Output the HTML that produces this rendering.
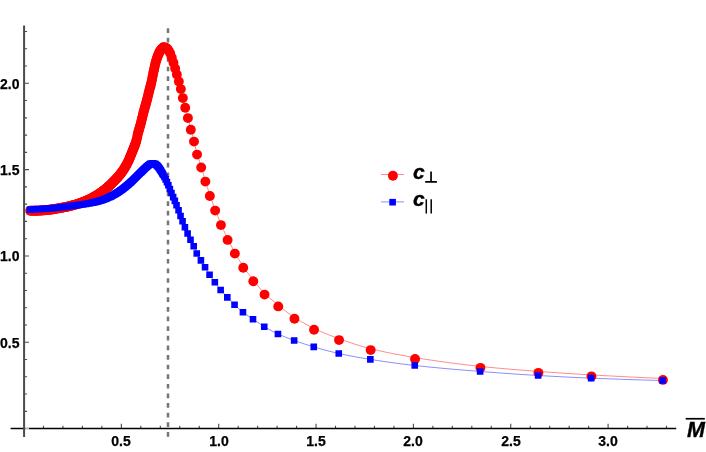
<!DOCTYPE html>
<html>
<head>
<meta charset="utf-8">
<title>Plot</title>
<style>
html,body{margin:0;padding:0;background:#ffffff;}
body{width:706px;height:452px;overflow:hidden;position:relative;font-family:"Liberation Sans",sans-serif;}
#c{position:absolute;left:0;top:0;width:706px;height:452px;overflow:hidden;background:#fff;}
svg{position:absolute;left:0;top:0;}
.t{position:absolute;will-change:transform;font-family:"Liberation Sans",sans-serif;font-weight:bold;color:#000;white-space:nowrap;line-height:1;}
.xl{width:40px;text-align:center;font-size:14.0px;-webkit-text-stroke:0.25px #000;}
.yl{left:0;width:19.3px;text-align:right;font-size:14.0px;-webkit-text-stroke:0.25px #000;}
.bi{font-style:italic;font-size:21.5px;-webkit-text-stroke:0.35px #000;}
</style>
</head>
<body>
<div id="c">
<svg width="706" height="452" viewBox="0 0 706 452">
<line x1="168.0" y1="28.2" x2="168.0" y2="436.7" stroke="#767676" stroke-width="2.5" stroke-dasharray="4.7 4.913"/>
<path d="M43.47 428.56v-2.80M62.94 428.56v-2.80M82.41 428.56v-2.80M101.88 428.56v-2.80M121.35 428.56v-4.70M140.82 428.56v-2.80M160.29 428.56v-2.80M179.76 428.56v-2.80M199.23 428.56v-2.80M218.70 428.56v-4.70M238.17 428.56v-2.80M257.64 428.56v-2.80M277.11 428.56v-2.80M296.58 428.56v-2.80M316.05 428.56v-4.70M335.52 428.56v-2.80M354.99 428.56v-2.80M374.46 428.56v-2.80M393.93 428.56v-2.80M413.40 428.56v-4.70M432.87 428.56v-2.80M452.34 428.56v-2.80M471.81 428.56v-2.80M491.28 428.56v-2.80M510.75 428.56v-4.70M530.22 428.56v-2.80M549.69 428.56v-2.80M569.16 428.56v-2.80M588.63 428.56v-2.80M608.10 428.56v-4.70M627.57 428.56v-2.80M647.04 428.56v-2.80M666.51 428.56v-2.80M24.08 411.34h3.00M24.08 394.07h3.00M24.08 376.81h3.00M24.08 359.54h3.00M24.08 342.28h4.90M24.08 325.01h3.00M24.08 307.75h3.00M24.08 290.48h3.00M24.08 273.22h3.00M24.08 255.95h4.90M24.08 238.69h3.00M24.08 221.42h3.00M24.08 204.16h3.00M24.08 186.89h3.00M24.08 169.62h4.90M24.08 152.36h3.00M24.08 135.10h3.00M24.08 117.83h3.00M24.08 100.57h3.00M24.08 83.30h4.90M24.08 66.03h3.00M24.08 48.77h3.00M24.08 31.51h3.00" stroke="#4a4a4a" stroke-width="1.1" fill="none"/>
<line x1="10.6" y1="428.56" x2="676.2" y2="428.56" stroke="#000" stroke-width="1.5"/>
<rect x="25.2" y="427.36" width="3.8" height="2.4" fill="#ffffff" fill-opacity="0.72"/>
<line x1="24.08" y1="25.5" x2="24.08" y2="437.1" stroke="#4b4b4b" stroke-width="2.0"/>
<polyline points="30.0,209.35 31.0,209.35 32.0,209.34 33.0,209.33 34.0,209.31 35.0,209.29 36.0,209.27 37.0,209.24 38.0,209.21 39.0,209.18 40.0,209.15 41.0,209.10 42.0,209.04 43.0,208.97 44.0,208.89 45.0,208.79 46.0,208.69 47.0,208.58 48.0,208.47 49.0,208.35 50.0,208.24 51.0,208.11 52.0,207.98 53.0,207.83 54.0,207.67 55.0,207.50 56.0,207.33 57.0,207.15 58.0,206.97 59.0,206.79 60.0,206.61 61.0,206.43 62.0,206.25 63.0,206.07 64.0,205.88 65.0,205.69 66.0,205.49 67.0,205.28 68.0,205.06 69.0,204.84 70.0,204.60 71.0,204.35 72.0,204.09 73.0,203.81 74.0,203.52 75.0,203.22 76.0,202.91 77.0,202.59 78.0,202.26 79.0,201.93 80.0,201.58 81.0,201.22 82.0,200.85 83.0,200.47 84.0,200.07 85.0,199.66 86.0,199.23 87.0,198.79 88.0,198.34 89.0,197.88 90.0,197.41 91.0,196.90 92.0,196.37 93.0,195.82 94.0,195.24 95.0,194.66 96.0,194.06 97.0,193.46 98.0,192.84 99.0,192.21 100.0,191.56 101.0,190.89 102.0,190.19 103.0,189.48 104.0,188.73 105.0,187.94 106.0,187.12 107.0,186.26 108.0,185.37 109.0,184.45 110.0,183.50 111.0,182.54 112.0,181.56 113.0,180.56 114.0,179.55 115.0,178.53 116.0,177.48 117.0,176.40 118.0,175.27 119.0,174.10 120.0,172.88 121.0,171.59 122.0,170.23 123.0,168.80 124.0,167.29 125.0,165.67 126.0,163.95 127.0,162.11 128.0,160.06 129.0,157.82 130.0,155.43 131.0,152.95 132.0,150.45 133.0,148.02 134.0,145.60 135.0,142.98 136.0,139.93 137.0,135.86 138.0,131.35 139.0,127.73 140.0,124.30 141.0,120.59 142.0,116.51 143.0,112.41 144.0,108.61 145.0,105.06 146.0,101.51 147.0,97.70 148.0,93.62 149.0,89.54 150.0,85.75 151.0,82.00 152.0,77.40 153.0,72.17 154.0,67.49 155.0,63.15 156.0,59.32 157.0,56.21 158.0,53.61 159.0,51.38 160.0,49.44 161.0,48.05 162.0,46.93 163.0,46.11 164.0,45.88 165.0,46.05 166.0,46.45 167.0,47.17 168.0,48.35 169.0,49.81 170.0,51.71 171.0,54.16 172.0,57.15 173.0,60.31 174.0,63.62 175.0,67.05 176.0,70.50 177.0,74.01 178.0,77.60 179.0,81.25 180.0,84.91 181.0,88.92 182.0,93.49 183.0,97.94 184.0,102.11 185.0,106.15 186.0,110.02 187.0,113.78 188.0,117.63 189.0,121.66 190.0,125.70 191.0,129.58 192.0,133.25 193.0,136.89 194.0,140.75 195.0,145.10 196.0,149.55 197.0,153.51 198.0,156.85 199.0,159.87 200.0,162.81 201.0,165.89 202.0,169.21 203.0,172.64 204.0,176.10 205.0,179.49 206.0,182.79 207.0,186.07 208.0,189.30 209.0,192.44 210.0,195.44 211.0,198.32 212.0,201.12 213.0,203.84 214.0,206.51 215.0,209.15 216.0,211.75 217.0,214.32 218.0,216.84 219.0,219.32 220.0,221.75 221.0,224.12 222.0,226.46 223.0,228.76 224.0,231.03 225.0,233.25 226.0,235.41 227.0,237.52 228.0,239.57 229.0,241.56 230.0,243.50 231.0,245.39 232.0,247.26 233.0,249.09 234.0,250.90 235.0,252.69 236.0,254.47 237.0,256.24 238.0,257.99 239.0,259.72 240.0,261.41 241.0,263.06 242.0,264.66 243.0,266.20 244.0,267.68 245.0,269.13 246.0,270.53 247.0,271.90 248.0,273.24 249.0,274.56 250.0,275.85 251.0,277.13 252.0,278.40 253.0,279.66 254.0,280.92 255.0,282.18 256.0,283.44 257.0,284.69 258.0,285.92 259.0,287.13 260.0,288.32 261.0,289.48 262.0,290.61 263.0,291.70 264.0,292.75 265.0,293.75 266.0,294.71 267.0,295.65 268.0,296.56 269.0,297.45 270.0,298.32 271.0,299.17 272.0,300.00 273.0,300.82 274.0,301.64 275.0,302.45 276.0,303.25 277.0,304.06 278.0,304.87 279.0,305.68 280.0,306.50 281.0,307.31 282.0,308.12 283.0,308.93 284.0,309.73 285.0,310.53 286.0,311.32 287.0,312.10 288.0,312.87 289.0,313.62 290.0,314.36 291.0,315.09 292.0,315.80 293.0,316.49 294.0,317.15 295.0,317.80 296.0,318.44 297.0,319.07 298.0,319.69 299.0,320.30 300.0,320.90 301.0,321.50 302.0,322.08 303.0,322.65 304.0,323.22 305.0,323.77 306.0,324.32 307.0,324.86 308.0,325.39 309.0,325.91 310.0,326.42 311.0,326.93 312.0,327.43 313.0,327.92 314.0,328.40 315.0,328.87 316.0,329.34 317.0,329.80 318.0,330.26 319.0,330.71 320.0,331.15 321.0,331.59 322.0,332.02 323.0,332.45 324.0,332.88 325.0,333.29 326.0,333.71 327.0,334.11 328.0,334.52 329.0,334.92 330.0,335.31 331.0,335.70 332.0,336.09 333.0,336.47 334.0,336.85 335.0,337.22 336.0,337.59 337.0,337.96 338.0,338.32 339.0,338.69 340.0,339.05 341.0,339.40 342.0,339.76 343.0,340.11 344.0,340.47 345.0,340.82 346.0,341.17 347.0,341.51 348.0,341.86 349.0,342.20 350.0,342.54 351.0,342.87 352.0,343.21 353.0,343.54 354.0,343.86 355.0,344.19 356.0,344.51 357.0,344.82 358.0,345.13 359.0,345.44 360.0,345.75 361.0,346.05 362.0,346.34 363.0,346.63 364.0,346.92 365.0,347.20 366.0,347.47 367.0,347.75 368.0,348.01 369.0,348.27 370.0,348.52 371.0,348.77 372.0,349.02 373.0,349.26 374.0,349.50 375.0,349.74 376.0,349.98 377.0,350.21 378.0,350.44 379.0,350.67 380.0,350.90 381.0,351.12 382.0,351.34 383.0,351.56 384.0,351.78 385.0,351.99 386.0,352.20 387.0,352.41 388.0,352.62 389.0,352.83 390.0,353.03 391.0,353.23 392.0,353.43 393.0,353.63 394.0,353.83 395.0,354.02 396.0,354.21 397.0,354.40 398.0,354.59 399.0,354.78 400.0,354.97 401.0,355.15 402.0,355.33 403.0,355.51 404.0,355.69 405.0,355.87 406.0,356.04 407.0,356.22 408.0,356.39 409.0,356.56 410.0,356.73 411.0,356.90 412.0,357.07 413.0,357.24 414.0,357.40 415.0,357.57 416.0,357.73 417.0,357.89 418.0,358.05 419.0,358.21 420.0,358.37 421.0,358.53 422.0,358.69 423.0,358.85 424.0,359.01 425.0,359.16 426.0,359.32 427.0,359.47 428.0,359.62 429.0,359.78 430.0,359.93 431.0,360.08 432.0,360.23 433.0,360.38 434.0,360.53 435.0,360.67 436.0,360.82 437.0,360.97 438.0,361.11 439.0,361.25 440.0,361.40 441.0,361.54 442.0,361.68 443.0,361.82 444.0,361.96 445.0,362.10 446.0,362.24 447.0,362.37 448.0,362.51 449.0,362.64 450.0,362.78 451.0,362.91 452.0,363.04 453.0,363.18 454.0,363.31 455.0,363.44 456.0,363.56 457.0,363.69 458.0,363.82 459.0,363.94 460.0,364.07 461.0,364.19 462.0,364.32 463.0,364.44 464.0,364.56 465.0,364.68 466.0,364.80 467.0,364.92 468.0,365.04 469.0,365.15 470.0,365.27 471.0,365.38 472.0,365.50 473.0,365.61 474.0,365.72 475.0,365.83 476.0,365.94 477.0,366.05 478.0,366.16 479.0,366.26 480.0,366.37 481.0,366.47 482.0,366.58 483.0,366.68 484.0,366.78 485.0,366.88 486.0,366.98 487.0,367.08 488.0,367.18 489.0,367.28 490.0,367.38 491.0,367.47 492.0,367.57 493.0,367.66 494.0,367.76 495.0,367.85 496.0,367.95 497.0,368.04 498.0,368.13 499.0,368.22 500.0,368.31 501.0,368.40 502.0,368.49 503.0,368.58 504.0,368.66 505.0,368.75 506.0,368.84 507.0,368.92 508.0,369.01 509.0,369.09 510.0,369.18 511.0,369.26 512.0,369.35 513.0,369.43 514.0,369.51 515.0,369.59 516.0,369.67 517.0,369.76 518.0,369.84 519.0,369.92 520.0,370.00 521.0,370.08 522.0,370.15 523.0,370.23 524.0,370.31 525.0,370.39 526.0,370.47 527.0,370.54 528.0,370.62 529.0,370.70 530.0,370.77 531.0,370.85 532.0,370.93 533.0,371.00 534.0,371.08 535.0,371.15 536.0,371.23 537.0,371.30 538.0,371.38 539.0,371.45 540.0,371.53 541.0,371.60 542.0,371.67 543.0,371.75 544.0,371.82 545.0,371.89 546.0,371.96 547.0,372.04 548.0,372.11 549.0,372.18 550.0,372.25 551.0,372.32 552.0,372.39 553.0,372.46 554.0,372.53 555.0,372.60 556.0,372.67 557.0,372.74 558.0,372.81 559.0,372.87 560.0,372.94 561.0,373.01 562.0,373.08 563.0,373.14 564.0,373.21 565.0,373.28 566.0,373.34 567.0,373.41 568.0,373.47 569.0,373.54 570.0,373.60 571.0,373.67 572.0,373.73 573.0,373.79 574.0,373.86 575.0,373.92 576.0,373.98 577.0,374.04 578.0,374.10 579.0,374.17 580.0,374.23 581.0,374.29 582.0,374.35 583.0,374.41 584.0,374.47 585.0,374.53 586.0,374.59 587.0,374.65 588.0,374.70 589.0,374.76 590.0,374.82 591.0,374.88 592.0,374.93 593.0,374.99 594.0,375.05 595.0,375.10 596.0,375.16 597.0,375.22 598.0,375.27 599.0,375.33 600.0,375.38 601.0,375.44 602.0,375.50 603.0,375.55 604.0,375.61 605.0,375.66 606.0,375.72 607.0,375.77 608.0,375.82 609.0,375.88 610.0,375.93 611.0,375.99 612.0,376.04 613.0,376.09 614.0,376.15 615.0,376.20 616.0,376.25 617.0,376.30 618.0,376.36 619.0,376.41 620.0,376.46 621.0,376.51 622.0,376.56 623.0,376.62 624.0,376.67 625.0,376.72 626.0,376.77 627.0,376.82 628.0,376.87 629.0,376.92 630.0,376.97 631.0,377.02 632.0,377.07 633.0,377.11 634.0,377.16 635.0,377.21 636.0,377.26 637.0,377.31 638.0,377.36 639.0,377.40 640.0,377.45 641.0,377.50 642.0,377.54 643.0,377.59 644.0,377.64 645.0,377.68 646.0,377.73 647.0,377.77 648.0,377.82 649.0,377.86 650.0,377.91 651.0,377.95 652.0,377.99 653.0,378.04 654.0,378.08 655.0,378.12 656.0,378.17 657.0,378.21 658.0,378.25 659.0,378.29 660.0,378.33 661.0,378.37 662.0,378.42 662.6,378.44" fill="none" stroke="#ff0000" stroke-width="0.45"/>
<polyline points="30.0,209.69 31.0,209.62 32.0,209.56 33.0,209.49 34.0,209.43 35.0,209.37 36.0,209.30 37.0,209.24 38.0,209.17 39.0,209.11 40.0,209.04 41.0,208.98 42.0,208.92 43.0,208.86 44.0,208.80 45.0,208.73 46.0,208.67 47.0,208.61 48.0,208.54 49.0,208.47 50.0,208.39 51.0,208.31 52.0,208.23 53.0,208.14 54.0,208.05 55.0,207.95 56.0,207.85 57.0,207.75 58.0,207.64 59.0,207.54 60.0,207.43 61.0,207.32 62.0,207.20 63.0,207.08 64.0,206.95 65.0,206.83 66.0,206.70 67.0,206.57 68.0,206.44 69.0,206.30 70.0,206.17 71.0,206.04 72.0,205.91 73.0,205.78 74.0,205.64 75.0,205.51 76.0,205.37 77.0,205.23 78.0,205.09 79.0,204.95 80.0,204.80 81.0,204.65 82.0,204.51 83.0,204.36 84.0,204.21 85.0,204.05 86.0,203.90 87.0,203.73 88.0,203.56 89.0,203.39 90.0,203.20 91.0,203.01 92.0,202.80 93.0,202.59 94.0,202.37 95.0,202.14 96.0,201.90 97.0,201.65 98.0,201.39 99.0,201.11 100.0,200.82 101.0,200.51 102.0,200.18 103.0,199.82 104.0,199.45 105.0,199.05 106.0,198.64 107.0,198.21 108.0,197.77 109.0,197.32 110.0,196.85 111.0,196.37 112.0,195.86 113.0,195.32 114.0,194.76 115.0,194.19 116.0,193.59 117.0,192.97 118.0,192.33 119.0,191.68 120.0,191.02 121.0,190.32 122.0,189.60 123.0,188.84 124.0,188.07 125.0,187.27 126.0,186.45 127.0,185.61 128.0,184.76 129.0,183.90 130.0,183.02 131.0,182.12 132.0,181.19 133.0,180.24 134.0,179.26 135.0,178.27 136.0,177.27 137.0,176.27 138.0,175.27 139.0,174.28 140.0,173.31 141.0,172.33 142.0,171.34 143.0,170.35 144.0,169.38 145.0,168.44 146.0,167.53 147.0,166.64 148.0,165.78 149.0,164.98 150.0,164.20 151.0,163.60 152.0,163.44 153.0,163.41 154.0,163.56 155.0,163.84 156.0,164.50 157.0,165.41 158.0,166.42 159.0,167.66 160.0,169.10 161.0,170.62 162.0,172.31 163.0,174.10 164.0,175.93 165.0,177.82 166.0,179.81 167.0,181.91 168.0,184.12 169.0,186.46 170.0,188.95 171.0,191.46 172.0,194.01 173.0,196.45 174.0,198.62 175.0,200.84 176.0,203.39 177.0,205.95 178.0,208.40 179.0,211.03 180.0,213.98 181.0,216.78 182.0,219.40 183.0,221.98 184.0,224.56 185.0,227.08 186.0,229.48 187.0,231.80 188.0,234.06 189.0,236.27 190.0,238.42 191.0,240.52 192.0,242.52 193.0,244.51 194.0,246.63 195.0,249.04 196.0,251.52 197.0,253.70 198.0,255.51 199.0,257.15 200.0,258.71 201.0,260.32 202.0,261.98 203.0,263.64 204.0,265.30 205.0,266.97 206.0,268.65 207.0,270.36 208.0,272.05 209.0,273.70 210.0,275.26 211.0,276.74 212.0,278.17 213.0,279.56 214.0,280.93 215.0,282.30 216.0,283.67 217.0,285.04 218.0,286.40 219.0,287.72 220.0,289.01 221.0,290.24 222.0,291.42 223.0,292.57 224.0,293.69 225.0,294.78 226.0,295.85 227.0,296.92 228.0,297.98 229.0,299.04 230.0,300.09 231.0,301.12 232.0,302.14 233.0,303.14 234.0,304.13 235.0,305.09 236.0,306.04 237.0,306.98 238.0,307.91 239.0,308.82 240.0,309.72 241.0,310.58 242.0,311.42 243.0,312.22 244.0,312.99 245.0,313.72 246.0,314.43 247.0,315.12 248.0,315.80 249.0,316.46 250.0,317.11 251.0,317.77 252.0,318.43 253.0,319.10 254.0,319.78 255.0,320.46 256.0,321.15 257.0,321.85 258.0,322.53 259.0,323.22 260.0,323.89 261.0,324.56 262.0,325.21 263.0,325.85 264.0,326.46 265.0,327.06 266.0,327.64 267.0,328.22 268.0,328.79 269.0,329.35 270.0,329.90 271.0,330.45 272.0,330.98 273.0,331.50 274.0,332.02 275.0,332.52 276.0,333.01 277.0,333.49 278.0,333.95 279.0,334.41 280.0,334.86 281.0,335.29 282.0,335.72 283.0,336.15 284.0,336.56 285.0,336.97 286.0,337.37 287.0,337.76 288.0,338.15 289.0,338.54 290.0,338.92 291.0,339.29 292.0,339.66 293.0,340.03 294.0,340.39 295.0,340.75 296.0,341.11 297.0,341.46 298.0,341.81 299.0,342.16 300.0,342.50 301.0,342.84 302.0,343.17 303.0,343.51 304.0,343.83 305.0,344.16 306.0,344.48 307.0,344.80 308.0,345.11 309.0,345.42 310.0,345.73 311.0,346.04 312.0,346.34 313.0,346.63 314.0,346.93 315.0,347.22 316.0,347.51 317.0,347.80 318.0,348.09 319.0,348.38 320.0,348.66 321.0,348.94 322.0,349.22 323.0,349.50 324.0,349.78 325.0,350.05 326.0,350.32 327.0,350.59 328.0,350.85 329.0,351.11 330.0,351.37 331.0,351.63 332.0,351.88 333.0,352.12 334.0,352.37 335.0,352.61 336.0,352.84 337.0,353.07 338.0,353.30 339.0,353.52 340.0,353.74 341.0,353.96 342.0,354.17 343.0,354.38 344.0,354.59 345.0,354.80 346.0,355.00 347.0,355.20 348.0,355.40 349.0,355.60 350.0,355.80 351.0,355.99 352.0,356.18 353.0,356.37 354.0,356.56 355.0,356.74 356.0,356.93 357.0,357.11 358.0,357.29 359.0,357.47 360.0,357.64 361.0,357.82 362.0,357.99 363.0,358.16 364.0,358.33 365.0,358.50 366.0,358.67 367.0,358.83 368.0,359.00 369.0,359.16 370.0,359.32 371.0,359.48 372.0,359.64 373.0,359.80 374.0,359.95 375.0,360.11 376.0,360.27 377.0,360.42 378.0,360.57 379.0,360.73 380.0,360.88 381.0,361.03 382.0,361.18 383.0,361.33 384.0,361.48 385.0,361.62 386.0,361.77 387.0,361.91 388.0,362.06 389.0,362.20 390.0,362.34 391.0,362.48 392.0,362.62 393.0,362.76 394.0,362.90 395.0,363.04 396.0,363.17 397.0,363.31 398.0,363.44 399.0,363.57 400.0,363.70 401.0,363.83 402.0,363.96 403.0,364.09 404.0,364.21 405.0,364.34 406.0,364.46 407.0,364.58 408.0,364.70 409.0,364.82 410.0,364.94 411.0,365.06 412.0,365.17 413.0,365.29 414.0,365.40 415.0,365.51 416.0,365.62 417.0,365.73 418.0,365.84 419.0,365.95 420.0,366.06 421.0,366.16 422.0,366.27 423.0,366.37 424.0,366.48 425.0,366.58 426.0,366.68 427.0,366.78 428.0,366.89 429.0,366.99 430.0,367.09 431.0,367.18 432.0,367.28 433.0,367.38 434.0,367.48 435.0,367.57 436.0,367.67 437.0,367.77 438.0,367.86 439.0,367.95 440.0,368.05 441.0,368.14 442.0,368.23 443.0,368.32 444.0,368.42 445.0,368.51 446.0,368.60 447.0,368.69 448.0,368.78 449.0,368.86 450.0,368.95 451.0,369.04 452.0,369.13 453.0,369.21 454.0,369.30 455.0,369.39 456.0,369.47 457.0,369.56 458.0,369.64 459.0,369.73 460.0,369.81 461.0,369.89 462.0,369.98 463.0,370.06 464.0,370.14 465.0,370.23 466.0,370.31 467.0,370.39 468.0,370.47 469.0,370.55 470.0,370.63 471.0,370.71 472.0,370.79 473.0,370.87 474.0,370.95 475.0,371.03 476.0,371.11 477.0,371.19 478.0,371.27 479.0,371.35 480.0,371.43 481.0,371.51 482.0,371.59 483.0,371.67 484.0,371.74 485.0,371.82 486.0,371.90 487.0,371.98 488.0,372.05 489.0,372.13 490.0,372.21 491.0,372.28 492.0,372.36 493.0,372.44 494.0,372.51 495.0,372.59 496.0,372.66 497.0,372.74 498.0,372.81 499.0,372.88 500.0,372.96 501.0,373.03 502.0,373.10 503.0,373.18 504.0,373.25 505.0,373.32 506.0,373.39 507.0,373.47 508.0,373.54 509.0,373.61 510.0,373.68 511.0,373.75 512.0,373.82 513.0,373.89 514.0,373.96 515.0,374.02 516.0,374.09 517.0,374.16 518.0,374.23 519.0,374.29 520.0,374.36 521.0,374.43 522.0,374.49 523.0,374.56 524.0,374.62 525.0,374.69 526.0,374.75 527.0,374.82 528.0,374.88 529.0,374.94 530.0,375.00 531.0,375.07 532.0,375.13 533.0,375.19 534.0,375.25 535.0,375.31 536.0,375.37 537.0,375.43 538.0,375.49 539.0,375.54 540.0,375.60 541.0,375.66 542.0,375.72 543.0,375.77 544.0,375.83 545.0,375.89 546.0,375.94 547.0,376.00 548.0,376.05 549.0,376.11 550.0,376.17 551.0,376.22 552.0,376.28 553.0,376.33 554.0,376.38 555.0,376.44 556.0,376.49 557.0,376.54 558.0,376.60 559.0,376.65 560.0,376.70 561.0,376.75 562.0,376.80 563.0,376.86 564.0,376.91 565.0,376.96 566.0,377.01 567.0,377.06 568.0,377.11 569.0,377.16 570.0,377.20 571.0,377.25 572.0,377.30 573.0,377.35 574.0,377.40 575.0,377.44 576.0,377.49 577.0,377.54 578.0,377.58 579.0,377.63 580.0,377.67 581.0,377.72 582.0,377.76 583.0,377.80 584.0,377.85 585.0,377.89 586.0,377.93 587.0,377.98 588.0,378.02 589.0,378.06 590.0,378.10 591.0,378.14 592.0,378.18 593.0,378.22 594.0,378.26 595.0,378.30 596.0,378.34 597.0,378.38 598.0,378.42 599.0,378.46 600.0,378.50 601.0,378.53 602.0,378.57 603.0,378.61 604.0,378.65 605.0,378.69 606.0,378.73 607.0,378.76 608.0,378.80 609.0,378.84 610.0,378.88 611.0,378.91 612.0,378.95 613.0,378.99 614.0,379.02 615.0,379.06 616.0,379.09 617.0,379.13 618.0,379.17 619.0,379.20 620.0,379.24 621.0,379.27 622.0,379.31 623.0,379.34 624.0,379.38 625.0,379.41 626.0,379.44 627.0,379.48 628.0,379.51 629.0,379.54 630.0,379.58 631.0,379.61 632.0,379.64 633.0,379.67 634.0,379.71 635.0,379.74 636.0,379.77 637.0,379.80 638.0,379.83 639.0,379.86 640.0,379.89 641.0,379.92 642.0,379.95 643.0,379.98 644.0,380.01 645.0,380.04 646.0,380.07 647.0,380.10 648.0,380.12 649.0,380.15 650.0,380.18 651.0,380.21 652.0,380.23 653.0,380.26 654.0,380.29 655.0,380.31 656.0,380.34 657.0,380.36 658.0,380.39 659.0,380.41 660.0,380.44 661.0,380.46 662.0,380.48 662.6,380.50" fill="none" stroke="#0000ff" stroke-width="0.45"/>
<g fill="#ff0000"><circle cx="30.15" cy="210.80" r="4.95"/><circle cx="31.15" cy="210.80" r="4.95"/><circle cx="32.15" cy="210.79" r="4.95"/><circle cx="33.15" cy="210.78" r="4.95"/><circle cx="34.15" cy="210.76" r="4.95"/><circle cx="35.15" cy="210.74" r="4.95"/><circle cx="36.15" cy="210.72" r="4.95"/><circle cx="37.15" cy="210.69" r="4.95"/><circle cx="38.15" cy="210.66" r="4.95"/><circle cx="39.15" cy="210.63" r="4.95"/><circle cx="40.15" cy="210.60" r="4.95"/><circle cx="41.15" cy="210.55" r="4.95"/><circle cx="42.15" cy="210.49" r="4.95"/><circle cx="43.15" cy="210.42" r="4.95"/><circle cx="44.15" cy="210.34" r="4.95"/><circle cx="45.15" cy="210.24" r="4.95"/><circle cx="46.15" cy="210.14" r="4.95"/><circle cx="47.15" cy="210.03" r="4.95"/><circle cx="48.15" cy="209.92" r="4.95"/><circle cx="49.15" cy="209.80" r="4.95"/><circle cx="50.15" cy="209.69" r="4.95"/><circle cx="51.15" cy="209.56" r="4.95"/><circle cx="52.15" cy="209.43" r="4.95"/><circle cx="53.15" cy="209.28" r="4.95"/><circle cx="54.15" cy="209.12" r="4.95"/><circle cx="55.15" cy="208.95" r="4.95"/><circle cx="56.15" cy="208.78" r="4.95"/><circle cx="57.15" cy="208.60" r="4.95"/><circle cx="58.15" cy="208.42" r="4.95"/><circle cx="59.15" cy="208.24" r="4.95"/><circle cx="60.15" cy="208.06" r="4.95"/><circle cx="61.15" cy="207.88" r="4.95"/><circle cx="62.15" cy="207.70" r="4.95"/><circle cx="63.15" cy="207.52" r="4.95"/><circle cx="64.15" cy="207.33" r="4.95"/><circle cx="65.15" cy="207.14" r="4.95"/><circle cx="66.15" cy="206.94" r="4.95"/><circle cx="67.15" cy="206.73" r="4.95"/><circle cx="68.15" cy="206.51" r="4.95"/><circle cx="69.15" cy="206.29" r="4.95"/><circle cx="70.15" cy="206.05" r="4.95"/><circle cx="71.15" cy="205.80" r="4.95"/><circle cx="72.15" cy="205.54" r="4.95"/><circle cx="73.15" cy="205.26" r="4.95"/><circle cx="74.15" cy="204.97" r="4.95"/><circle cx="75.15" cy="204.67" r="4.95"/><circle cx="76.15" cy="204.36" r="4.95"/><circle cx="77.15" cy="204.04" r="4.95"/><circle cx="78.15" cy="203.71" r="4.95"/><circle cx="79.15" cy="203.38" r="4.95"/><circle cx="80.15" cy="203.03" r="4.95"/><circle cx="81.15" cy="202.67" r="4.95"/><circle cx="82.15" cy="202.30" r="4.95"/><circle cx="83.15" cy="201.92" r="4.95"/><circle cx="84.15" cy="201.52" r="4.95"/><circle cx="85.15" cy="201.11" r="4.95"/><circle cx="86.15" cy="200.68" r="4.95"/><circle cx="87.15" cy="200.24" r="4.95"/><circle cx="88.15" cy="199.79" r="4.95"/><circle cx="89.15" cy="199.33" r="4.95"/><circle cx="90.15" cy="198.86" r="4.95"/><circle cx="91.15" cy="198.35" r="4.95"/><circle cx="92.15" cy="197.82" r="4.95"/><circle cx="93.15" cy="197.27" r="4.95"/><circle cx="94.15" cy="196.69" r="4.95"/><circle cx="95.15" cy="196.11" r="4.95"/><circle cx="96.15" cy="195.51" r="4.95"/><circle cx="97.15" cy="194.91" r="4.95"/><circle cx="98.15" cy="194.29" r="4.95"/><circle cx="99.15" cy="193.66" r="4.95"/><circle cx="100.15" cy="193.01" r="4.95"/><circle cx="100.65" cy="192.68" r="4.95"/><circle cx="101.15" cy="192.34" r="4.95"/><circle cx="101.65" cy="191.99" r="4.95"/><circle cx="102.15" cy="191.64" r="4.95"/><circle cx="102.65" cy="191.29" r="4.95"/><circle cx="103.15" cy="190.93" r="4.95"/><circle cx="103.65" cy="190.56" r="4.95"/><circle cx="104.15" cy="190.18" r="4.95"/><circle cx="104.65" cy="189.79" r="4.95"/><circle cx="105.15" cy="189.39" r="4.95"/><circle cx="105.65" cy="188.98" r="4.95"/><circle cx="106.15" cy="188.57" r="4.95"/><circle cx="106.65" cy="188.14" r="4.95"/><circle cx="107.15" cy="187.71" r="4.95"/><circle cx="107.65" cy="187.27" r="4.95"/><circle cx="108.15" cy="186.82" r="4.95"/><circle cx="108.65" cy="186.36" r="4.95"/><circle cx="109.15" cy="185.90" r="4.95"/><circle cx="109.65" cy="185.43" r="4.95"/><circle cx="110.15" cy="184.95" r="4.95"/><circle cx="110.65" cy="184.47" r="4.95"/><circle cx="111.15" cy="183.99" r="4.95"/><circle cx="111.65" cy="183.50" r="4.95"/><circle cx="112.15" cy="183.01" r="4.95"/><circle cx="112.65" cy="182.51" r="4.95"/><circle cx="113.15" cy="182.01" r="4.95"/><circle cx="113.65" cy="181.51" r="4.95"/><circle cx="114.15" cy="181.00" r="4.95"/><circle cx="114.65" cy="180.49" r="4.95"/><circle cx="115.15" cy="179.98" r="4.95"/><circle cx="115.65" cy="179.46" r="4.95"/><circle cx="116.15" cy="178.93" r="4.95"/><circle cx="116.65" cy="178.39" r="4.95"/><circle cx="117.15" cy="177.85" r="4.95"/><circle cx="117.65" cy="177.29" r="4.95"/><circle cx="118.15" cy="176.72" r="4.95"/><circle cx="118.65" cy="176.14" r="4.95"/><circle cx="119.15" cy="175.55" r="4.95"/><circle cx="119.65" cy="174.95" r="4.95"/><circle cx="120.15" cy="174.33" r="4.95"/><circle cx="120.65" cy="173.69" r="4.95"/><circle cx="121.15" cy="173.04" r="4.95"/><circle cx="121.65" cy="172.37" r="4.95"/><circle cx="122.15" cy="171.68" r="4.95"/><circle cx="122.65" cy="170.98" r="4.95"/><circle cx="123.15" cy="170.25" r="4.95"/><circle cx="123.65" cy="169.50" r="4.95"/><circle cx="124.15" cy="168.74" r="4.95"/><circle cx="124.65" cy="167.94" r="4.95"/><circle cx="125.15" cy="167.12" r="4.95"/><circle cx="125.65" cy="166.28" r="4.95"/><circle cx="126.15" cy="165.40" r="4.95"/><circle cx="126.65" cy="164.50" r="4.95"/><circle cx="127.15" cy="163.56" r="4.95"/><circle cx="127.65" cy="162.57" r="4.95"/><circle cx="128.15" cy="161.51" r="4.95"/><circle cx="128.65" cy="160.41" r="4.95"/><circle cx="129.15" cy="159.27" r="4.95"/><circle cx="129.65" cy="158.09" r="4.95"/><circle cx="130.15" cy="156.88" r="4.95"/><circle cx="130.65" cy="155.65" r="4.95"/><circle cx="131.15" cy="154.40" r="4.95"/><circle cx="131.65" cy="153.15" r="4.95"/><circle cx="132.15" cy="151.90" r="4.95"/><circle cx="132.65" cy="150.67" r="4.95"/><circle cx="133.15" cy="149.47" r="4.95"/><circle cx="133.65" cy="148.28" r="4.95"/><circle cx="134.15" cy="147.05" r="4.95"/><circle cx="134.65" cy="145.78" r="4.95"/><circle cx="135.15" cy="144.43" r="4.95"/><circle cx="135.65" cy="142.97" r="4.95"/><circle cx="136.15" cy="141.38" r="4.95"/><circle cx="136.65" cy="139.62" r="4.95"/><circle cx="137.15" cy="137.31" r="4.95"/><circle cx="137.65" cy="134.85" r="4.95"/><circle cx="138.15" cy="132.80" r="4.95"/><circle cx="138.65" cy="130.94" r="4.95"/><circle cx="139.15" cy="129.18" r="4.95"/><circle cx="139.65" cy="127.47" r="4.95"/><circle cx="140.15" cy="125.75" r="4.95"/><circle cx="140.65" cy="123.95" r="4.95"/><circle cx="141.15" cy="122.04" r="4.95"/><circle cx="141.65" cy="120.02" r="4.95"/><circle cx="142.15" cy="117.96" r="4.95"/><circle cx="142.65" cy="115.89" r="4.95"/><circle cx="143.15" cy="113.86" r="4.95"/><circle cx="143.65" cy="111.91" r="4.95"/><circle cx="144.15" cy="110.06" r="4.95"/><circle cx="144.65" cy="108.27" r="4.95"/><circle cx="145.15" cy="106.51" r="4.95"/><circle cx="145.65" cy="104.75" r="4.95"/><circle cx="146.15" cy="102.96" r="4.95"/><circle cx="146.65" cy="101.10" r="4.95"/><circle cx="147.15" cy="99.15" r="4.95"/><circle cx="147.65" cy="97.13" r="4.95"/><circle cx="148.15" cy="95.07" r="4.95"/><circle cx="148.65" cy="93.01" r="4.95"/><circle cx="149.15" cy="90.99" r="4.95"/><circle cx="149.65" cy="89.04" r="4.95"/><circle cx="150.15" cy="87.20" r="4.95"/><circle cx="150.65" cy="85.38" r="4.95"/><circle cx="151.15" cy="83.45" r="4.95"/><circle cx="151.65" cy="81.31" r="4.95"/><circle cx="152.15" cy="78.85" r="4.95"/><circle cx="152.65" cy="76.23" r="4.95"/><circle cx="153.15" cy="73.62" r="4.95"/><circle cx="153.65" cy="71.20" r="4.95"/><circle cx="154.15" cy="68.94" r="4.95"/><circle cx="154.65" cy="66.73" r="4.95"/><circle cx="155.15" cy="64.60" r="4.95"/><circle cx="155.65" cy="62.60" r="4.95"/><circle cx="156.15" cy="60.77" r="4.95"/><circle cx="156.65" cy="59.15" r="4.95"/><circle cx="157.15" cy="57.66" r="4.95"/><circle cx="157.65" cy="56.30" r="4.95"/><circle cx="158.15" cy="55.06" r="4.95"/><circle cx="158.65" cy="53.92" r="4.95"/><circle cx="159.15" cy="52.83" r="4.95"/><circle cx="159.65" cy="51.80" r="4.95"/><circle cx="160.15" cy="50.89" r="4.95"/><circle cx="160.65" cy="50.13" r="4.95"/><circle cx="161.15" cy="49.50" r="4.95"/><circle cx="161.65" cy="48.91" r="4.95"/><circle cx="162.15" cy="48.38" r="4.95"/><circle cx="162.65" cy="47.92" r="4.95"/><circle cx="163.15" cy="47.56" r="4.95"/><circle cx="163.65" cy="47.30" r="4.95"/><circle cx="164.75" cy="47.42" r="4.95"/><circle cx="165.95" cy="47.79" r="4.95"/><circle cx="167.25" cy="48.72" r="4.95"/><circle cx="168.65" cy="50.48" r="4.95"/><circle cx="170.15" cy="53.16" r="4.95"/><circle cx="171.75" cy="57.38" r="4.95"/><circle cx="173.45" cy="62.74" r="4.95"/><circle cx="175.15" cy="68.50" r="4.95"/><circle cx="176.85" cy="74.40" r="4.95"/><circle cx="178.85" cy="81.60" r="4.95"/><circle cx="180.85" cy="89.10" r="4.95"/><circle cx="182.85" cy="98.10" r="4.95"/><circle cx="185.20" cy="107.80" r="4.95"/><circle cx="187.90" cy="118.10" r="4.95"/><circle cx="190.80" cy="129.70" r="4.95"/><circle cx="194.00" cy="141.60" r="4.95"/><circle cx="197.05" cy="154.60" r="4.95"/><circle cx="201.20" cy="167.50" r="4.95"/><circle cx="205.35" cy="181.60" r="4.95"/><circle cx="209.85" cy="196.00" r="4.95"/><circle cx="215.15" cy="210.60" r="4.95"/><circle cx="220.95" cy="225.10" r="4.95"/><circle cx="227.60" cy="239.90" r="4.95"/><circle cx="234.85" cy="253.60" r="4.95"/><circle cx="243.25" cy="267.80" r="4.95"/><circle cx="253.30" cy="281.30" r="4.95"/><circle cx="264.55" cy="294.60" r="4.95"/><circle cx="278.25" cy="306.40" r="4.95"/><circle cx="294.45" cy="318.80" r="4.95"/><circle cx="314.05" cy="329.80" r="4.95"/><circle cx="339.05" cy="340.10" r="4.95"/><circle cx="370.65" cy="350.10" r="4.95"/><circle cx="415.05" cy="359.00" r="4.95"/><circle cx="480.42" cy="367.85" r="4.95"/><circle cx="538.42" cy="372.85" r="4.95"/><circle cx="591.45" cy="376.34" r="4.95"/><circle cx="662.95" cy="379.90" r="4.95"/></g>
<path d="M26.55 206.39h6.6v6.6h-6.6zM27.55 206.32h6.6v6.6h-6.6zM28.55 206.26h6.6v6.6h-6.6zM29.55 206.19h6.6v6.6h-6.6zM30.55 206.13h6.6v6.6h-6.6zM31.55 206.07h6.6v6.6h-6.6zM32.55 206.00h6.6v6.6h-6.6zM33.55 205.94h6.6v6.6h-6.6zM34.55 205.87h6.6v6.6h-6.6zM35.55 205.81h6.6v6.6h-6.6zM36.55 205.74h6.6v6.6h-6.6zM37.55 205.68h6.6v6.6h-6.6zM38.55 205.62h6.6v6.6h-6.6zM39.55 205.56h6.6v6.6h-6.6zM40.55 205.50h6.6v6.6h-6.6zM41.55 205.43h6.6v6.6h-6.6zM42.55 205.37h6.6v6.6h-6.6zM43.55 205.31h6.6v6.6h-6.6zM44.55 205.24h6.6v6.6h-6.6zM45.55 205.17h6.6v6.6h-6.6zM46.55 205.09h6.6v6.6h-6.6zM47.55 205.01h6.6v6.6h-6.6zM48.55 204.93h6.6v6.6h-6.6zM49.55 204.84h6.6v6.6h-6.6zM50.55 204.75h6.6v6.6h-6.6zM51.55 204.65h6.6v6.6h-6.6zM52.55 204.55h6.6v6.6h-6.6zM53.55 204.45h6.6v6.6h-6.6zM54.55 204.34h6.6v6.6h-6.6zM55.55 204.24h6.6v6.6h-6.6zM56.55 204.13h6.6v6.6h-6.6zM57.55 204.02h6.6v6.6h-6.6zM58.55 203.90h6.6v6.6h-6.6zM59.55 203.78h6.6v6.6h-6.6zM60.55 203.65h6.6v6.6h-6.6zM61.55 203.53h6.6v6.6h-6.6zM62.55 203.40h6.6v6.6h-6.6zM63.55 203.27h6.6v6.6h-6.6zM64.55 203.14h6.6v6.6h-6.6zM65.55 203.00h6.6v6.6h-6.6zM66.55 202.87h6.6v6.6h-6.6zM67.55 202.74h6.6v6.6h-6.6zM68.55 202.61h6.6v6.6h-6.6zM69.55 202.48h6.6v6.6h-6.6zM70.55 202.34h6.6v6.6h-6.6zM71.55 202.21h6.6v6.6h-6.6zM72.55 202.07h6.6v6.6h-6.6zM73.55 201.93h6.6v6.6h-6.6zM74.55 201.79h6.6v6.6h-6.6zM75.55 201.65h6.6v6.6h-6.6zM76.55 201.50h6.6v6.6h-6.6zM77.55 201.35h6.6v6.6h-6.6zM78.55 201.21h6.6v6.6h-6.6zM79.55 201.06h6.6v6.6h-6.6zM80.55 200.91h6.6v6.6h-6.6zM81.55 200.75h6.6v6.6h-6.6zM82.55 200.60h6.6v6.6h-6.6zM83.55 200.43h6.6v6.6h-6.6zM84.55 200.26h6.6v6.6h-6.6zM85.55 200.09h6.6v6.6h-6.6zM86.55 199.90h6.6v6.6h-6.6zM87.55 199.71h6.6v6.6h-6.6zM88.55 199.50h6.6v6.6h-6.6zM89.55 199.29h6.6v6.6h-6.6zM90.55 199.07h6.6v6.6h-6.6zM91.55 198.84h6.6v6.6h-6.6zM92.55 198.60h6.6v6.6h-6.6zM93.55 198.35h6.6v6.6h-6.6zM94.55 198.09h6.6v6.6h-6.6zM95.55 197.81h6.6v6.6h-6.6zM96.55 197.52h6.6v6.6h-6.6zM97.05 197.37h6.6v6.6h-6.6zM97.55 197.21h6.6v6.6h-6.6zM98.05 197.05h6.6v6.6h-6.6zM98.55 196.88h6.6v6.6h-6.6zM99.05 196.70h6.6v6.6h-6.6zM99.55 196.52h6.6v6.6h-6.6zM100.05 196.34h6.6v6.6h-6.6zM100.55 196.15h6.6v6.6h-6.6zM101.05 195.95h6.6v6.6h-6.6zM101.55 195.75h6.6v6.6h-6.6zM102.05 195.55h6.6v6.6h-6.6zM102.55 195.34h6.6v6.6h-6.6zM103.05 195.13h6.6v6.6h-6.6zM103.55 194.91h6.6v6.6h-6.6zM104.05 194.70h6.6v6.6h-6.6zM104.55 194.47h6.6v6.6h-6.6zM105.05 194.25h6.6v6.6h-6.6zM105.55 194.02h6.6v6.6h-6.6zM106.05 193.79h6.6v6.6h-6.6zM106.55 193.55h6.6v6.6h-6.6zM107.05 193.31h6.6v6.6h-6.6zM107.55 193.07h6.6v6.6h-6.6zM108.05 192.81h6.6v6.6h-6.6zM108.55 192.56h6.6v6.6h-6.6zM109.05 192.29h6.6v6.6h-6.6zM109.55 192.02h6.6v6.6h-6.6zM110.05 191.75h6.6v6.6h-6.6zM110.55 191.46h6.6v6.6h-6.6zM111.05 191.18h6.6v6.6h-6.6zM111.55 190.89h6.6v6.6h-6.6zM112.05 190.59h6.6v6.6h-6.6zM112.55 190.29h6.6v6.6h-6.6zM113.05 189.98h6.6v6.6h-6.6zM113.55 189.67h6.6v6.6h-6.6zM114.05 189.35h6.6v6.6h-6.6zM114.55 189.03h6.6v6.6h-6.6zM115.05 188.71h6.6v6.6h-6.6zM115.55 188.38h6.6v6.6h-6.6zM116.05 188.05h6.6v6.6h-6.6zM116.55 187.72h6.6v6.6h-6.6zM117.05 187.37h6.6v6.6h-6.6zM117.55 187.02h6.6v6.6h-6.6zM118.05 186.66h6.6v6.6h-6.6zM118.55 186.30h6.6v6.6h-6.6zM119.05 185.92h6.6v6.6h-6.6zM119.55 185.54h6.6v6.6h-6.6zM120.05 185.16h6.6v6.6h-6.6zM120.55 184.77h6.6v6.6h-6.6zM121.05 184.37h6.6v6.6h-6.6zM121.55 183.97h6.6v6.6h-6.6zM122.05 183.56h6.6v6.6h-6.6zM122.55 183.15h6.6v6.6h-6.6zM123.05 182.73h6.6v6.6h-6.6zM123.55 182.31h6.6v6.6h-6.6zM124.05 181.89h6.6v6.6h-6.6zM124.55 181.46h6.6v6.6h-6.6zM125.05 181.03h6.6v6.6h-6.6zM125.55 180.60h6.6v6.6h-6.6zM126.05 180.16h6.6v6.6h-6.6zM126.55 179.72h6.6v6.6h-6.6zM127.05 179.28h6.6v6.6h-6.6zM127.55 178.82h6.6v6.6h-6.6zM128.05 178.36h6.6v6.6h-6.6zM128.55 177.89h6.6v6.6h-6.6zM129.05 177.42h6.6v6.6h-6.6zM129.55 176.94h6.6v6.6h-6.6zM130.05 176.45h6.6v6.6h-6.6zM130.55 175.96h6.6v6.6h-6.6zM131.05 175.46h6.6v6.6h-6.6zM131.55 174.97h6.6v6.6h-6.6zM132.05 174.47h6.6v6.6h-6.6zM132.55 173.97h6.6v6.6h-6.6zM133.05 173.47h6.6v6.6h-6.6zM133.55 172.97h6.6v6.6h-6.6zM134.05 172.47h6.6v6.6h-6.6zM134.55 171.97h6.6v6.6h-6.6zM135.05 171.47h6.6v6.6h-6.6zM135.55 170.98h6.6v6.6h-6.6zM136.05 170.49h6.6v6.6h-6.6zM136.55 170.01h6.6v6.6h-6.6zM137.05 169.52h6.6v6.6h-6.6zM137.55 169.03h6.6v6.6h-6.6zM138.05 168.53h6.6v6.6h-6.6zM138.55 168.04h6.6v6.6h-6.6zM139.05 167.54h6.6v6.6h-6.6zM139.55 167.05h6.6v6.6h-6.6zM140.05 166.56h6.6v6.6h-6.6zM140.55 166.08h6.6v6.6h-6.6zM141.05 165.61h6.6v6.6h-6.6zM141.55 165.14h6.6v6.6h-6.6zM142.05 164.68h6.6v6.6h-6.6zM142.55 164.23h6.6v6.6h-6.6zM143.05 163.79h6.6v6.6h-6.6zM143.55 163.34h6.6v6.6h-6.6zM144.05 162.91h6.6v6.6h-6.6zM144.55 162.48h6.6v6.6h-6.6zM145.05 162.07h6.6v6.6h-6.6zM145.55 161.68h6.6v6.6h-6.6zM146.05 161.30h6.6v6.6h-6.6zM146.55 160.90h6.6v6.6h-6.6zM147.05 160.52h6.6v6.6h-6.6zM147.55 160.30h6.6v6.6h-6.6zM148.05 160.21h6.6v6.6h-6.6zM148.55 160.14h6.6v6.6h-6.6zM149.05 160.10h6.6v6.6h-6.6zM149.55 160.11h6.6v6.6h-6.6zM150.05 160.17h6.6v6.6h-6.6zM150.55 160.26h6.6v6.6h-6.6zM151.05 160.38h6.6v6.6h-6.6zM151.55 160.54h6.6v6.6h-6.6zM152.05 160.82h6.6v6.6h-6.6zM152.55 161.20h6.6v6.6h-6.6zM153.05 161.63h6.6v6.6h-6.6zM153.55 162.11h6.6v6.6h-6.6zM154.05 162.60h6.6v6.6h-6.6zM154.55 163.12h6.6v6.6h-6.6zM155.05 163.71h6.6v6.6h-6.6zM155.55 164.36h6.6v6.6h-6.6zM156.05 165.06h6.6v6.6h-6.6zM156.55 165.80h6.6v6.6h-6.6zM157.05 166.55h6.6v6.6h-6.6zM157.55 167.32h6.6v6.6h-6.6zM158.05 168.14h6.6v6.6h-6.6zM158.55 169.01h6.6v6.6h-6.6zM159.05 169.90h6.6v6.6h-6.6zM159.55 170.80h6.6v6.6h-6.6zM160.05 171.72h6.6v6.6h-6.6zM161.15 173.75h6.6v6.6h-6.6zM162.35 176.10h6.6v6.6h-6.6zM163.65 178.82h6.6v6.6h-6.6zM165.05 181.96h6.6v6.6h-6.6zM166.55 185.65h6.6v6.6h-6.6zM168.15 189.69h6.6v6.6h-6.6zM169.85 193.83h6.6v6.6h-6.6zM171.55 197.54h6.6v6.6h-6.6zM173.25 201.90h6.6v6.6h-6.6zM175.25 206.90h6.6v6.6h-6.6zM177.25 212.67h6.6v6.6h-6.6zM179.25 217.90h6.6v6.6h-6.6zM181.60 223.90h6.6v6.6h-6.6zM184.30 230.20h6.6v6.6h-6.6zM187.20 236.50h6.6v6.6h-6.6zM190.40 243.00h6.6v6.6h-6.6zM193.45 250.20h6.6v6.6h-6.6zM197.60 257.10h6.6v6.6h-6.6zM201.75 264.00h6.6v6.6h-6.6zM206.25 271.50h6.6v6.6h-6.6zM211.55 279.00h6.6v6.6h-6.6zM217.35 286.70h6.6v6.6h-6.6zM224.00 294.10h6.6v6.6h-6.6zM231.25 301.50h6.6v6.6h-6.6zM239.65 309.00h6.6v6.6h-6.6zM249.70 315.90h6.6v6.6h-6.6zM260.95 323.40h6.6v6.6h-6.6zM274.65 330.70h6.6v6.6h-6.6zM290.85 337.20h6.6v6.6h-6.6zM310.45 343.60h6.6v6.6h-6.6zM335.45 350.20h6.6v6.6h-6.6zM367.05 356.10h6.6v6.6h-6.6zM411.45 362.20h6.6v6.6h-6.6zM476.82 368.15h6.6v6.6h-6.6zM534.82 372.20h6.6v6.6h-6.6zM587.85 374.85h6.6v6.6h-6.6zM659.35 377.20h6.6v6.6h-6.6z" fill="#0000ff"/>
<line x1="381" y1="174.5" x2="404" y2="174.5" stroke="#ff0000" stroke-width="0.45"/>
<circle cx="392.9" cy="175.7" r="4.95" fill="#ff0000"/>
<line x1="381" y1="201.9" x2="404" y2="201.9" stroke="#0000ff" stroke-width="0.45"/>
<rect x="389.30" y="198.90" width="6.6" height="6.6" fill="#0000ff"/>
<path d="M425.2 181.8H436.9M431.05 181.8V171.4" stroke="#000" stroke-width="1.7" fill="none"/>
<path d="M426.3 199.3V213.4M431.2 199.3V213.4" stroke="#000" stroke-width="1.5" fill="none"/>
<line x1="685.7" y1="418.75" x2="704.8" y2="418.75" stroke="#000" stroke-width="1.7"/>
</svg>
<div class="t xl" style="left:101.35px;top:433.7px;">0.5</div><div class="t xl" style="left:198.70px;top:433.7px;">1.0</div><div class="t xl" style="left:296.05px;top:433.7px;">1.5</div><div class="t xl" style="left:393.40px;top:433.7px;">2.0</div><div class="t xl" style="left:490.75px;top:433.7px;">2.5</div><div class="t xl" style="left:588.10px;top:433.7px;">3.0</div><div class="t yl" style="top:335.58px;">0.5</div><div class="t yl" style="top:249.25px;">1.0</div><div class="t yl" style="top:162.93px;">1.5</div><div class="t yl" style="top:76.60px;">2.0</div><div class="t bi" style="left:412.9px;top:160.6px;font-size:21px;">c</div><div class="t bi" style="left:412.9px;top:187.8px;font-size:21px;">c</div><div class="t bi" style="left:686.6px;top:420.3px;">M</div>
</div>
</body>
</html>
